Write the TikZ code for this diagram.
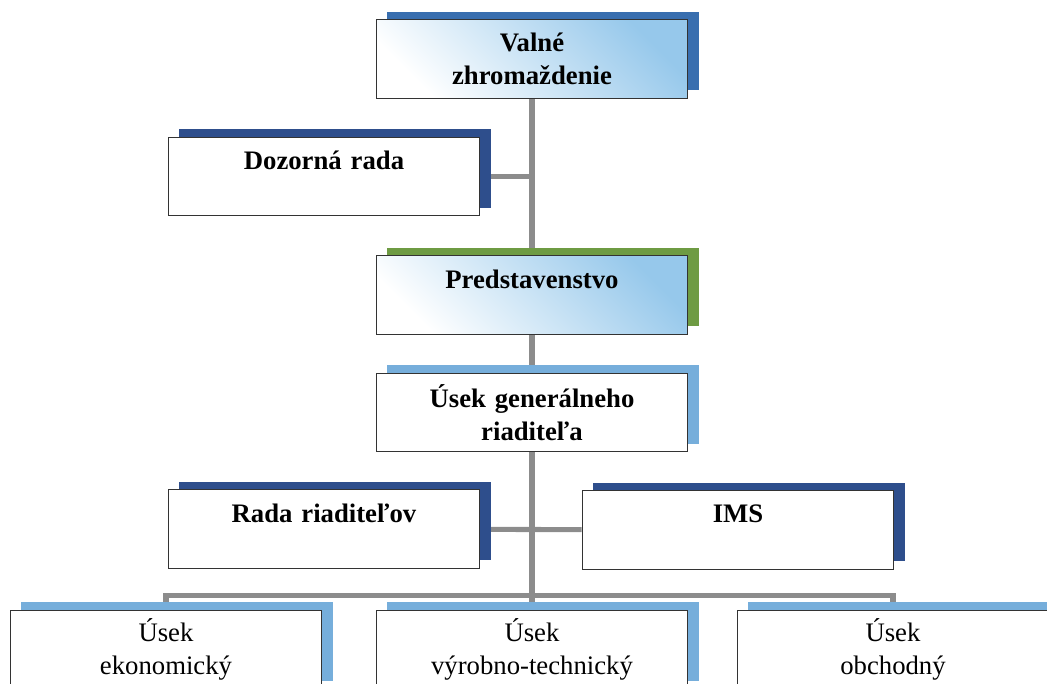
\documentclass[tikz,border=0pt]{standalone}
\usepackage{fontspec}
\setmainfont{Liberation Serif}
\usetikzlibrary{positioning,shadows,backgrounds}
\definecolor{navy}{RGB}{46,78,140}
\definecolor{royal}{RGB}{56,110,175}
\definecolor{leaf}{RGB}{110,155,67}
\definecolor{sky}{RGB}{118,174,219}
\definecolor{haze}{RGB}{150,200,235}
\definecolor{linkgray}{RGB}{140,140,140}

\tikzset{
  unit/.style={draw=black!80, line width=1pt, fill=white, minimum width=7.78cm,
    minimum height=1.96cm, text width=7.5cm, align=center, inner sep=0pt,
    font=\fontsize{19}{23}\selectfont\bfseries},
  dept/.style={unit, font=\fontsize{19}{23}\selectfont},
  backing/.style={general shadow={fill=#1, shadow xshift=0.275cm, shadow yshift=0.2cm}},
  glow/.style={shading=axis, top color=haze, bottom color=white, shading angle=-45},
  wire/.style={draw=linkgray, line width=3.6pt},
}

\begin{document}
\begin{tikzpicture}[x=0.025cm,y=-0.025cm]
  \useasboundingbox (0,0) rectangle (1047,684);
  \clip (0,0) rectangle (1047,684);
  % upper chain
  \node[unit,glow,backing=royal] (meeting) at (532,59) {Valné\\zhromaždenie};
  \node[unit,backing=navy] (supervisory) at (324,176.5) {Dozorná rada\\\mbox{}};
  \node[unit,glow,backing=leaf] (board) at (532,295) {Predstavenstvo\\\mbox{}};
  \node[unit,backing=sky] (ceo) at (532,412.5) {Úsek generálneho\\riaditeľa};
  \node[unit,backing=navy] (council) at (324,529) {Rada riaditeľov\\\mbox{}};
  \node[unit,backing=navy] (ims) at (738,530) {IMS\\\mbox{}};
  % departments
  \node[dept,backing=sky] (economic) at (166,649.5) {Úsek\\ekonomický};
  \node[dept,backing=sky] (production) at (532,649.5) {Úsek\\výrobno-technický};
  \node[dept,backing=sky] (sales) at (893,649.5) {Úsek\\obchodný};
  \begin{scope}[on background layer]
    \draw[wire] (meeting) -- (board);
    \draw[wire] (board) -- (ceo);
    \draw[wire] (ceo) -- (production);
    \draw[wire] (supervisory.east) -- (supervisory.east -| meeting.south);
    \draw[wire] (council) -- (ims);
    \draw[wire] (economic.north) -- ++(0,-14) -| (sales.north);
  \end{scope}
\end{tikzpicture}
\end{document}
